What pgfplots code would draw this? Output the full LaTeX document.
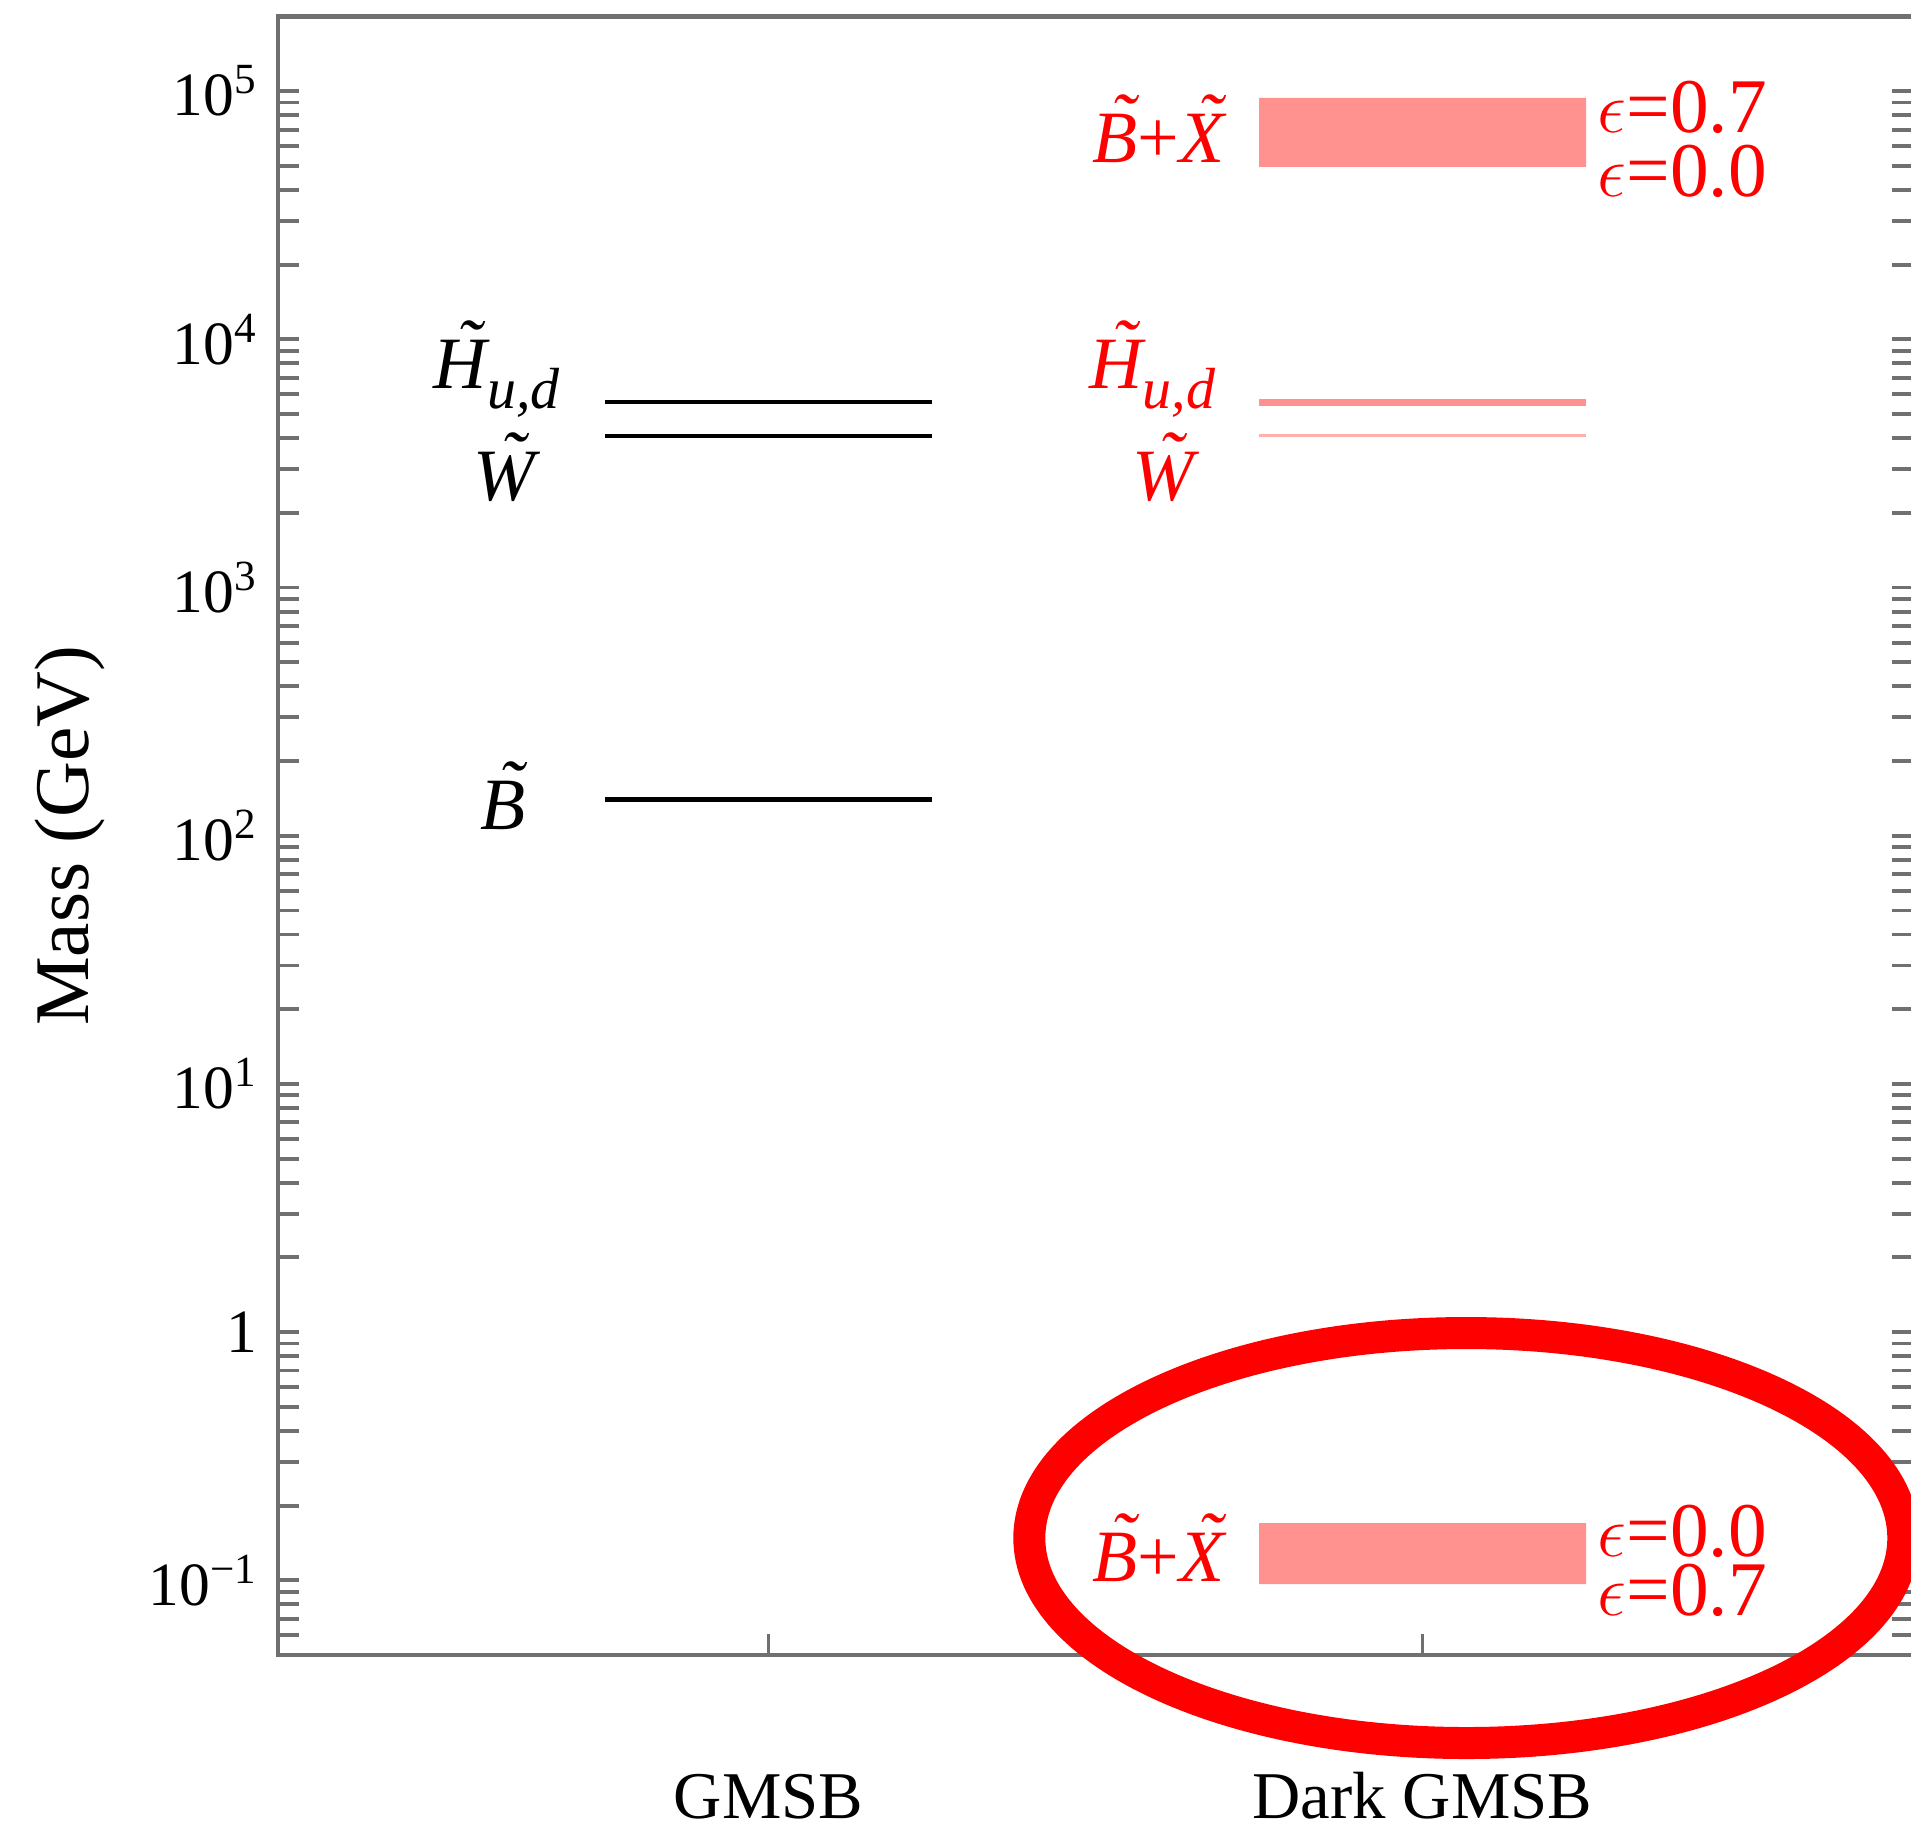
\documentclass[border=0pt]{standalone}
\usepackage{fontspec}
\setmainfont{Liberation Serif}
\usepackage{pgfplots}
\pgfplotsset{compat=1.18}
\definecolor{framegray}{RGB}{112,112,112}
\definecolor{salmon}{RGB}{255,146,142}
\definecolor{lightpink}{RGB}{255,175,172}
\definecolor{lblred}{RGB}{255,0,0}
% italic capital with a tilde above it
\newcommand{\sq}[1]{\textit{\setbox0\hbox{#1}\rlap{\hbox to \wd0{\hss\kern0.22em\raisebox{0.24em}{\char"02DC}\hss}}\box0}}
\newcommand{\Hud}{\sq{H}\raisebox{-0.28em}{\fontsize{16.5}{16.5}\selectfont\textit{u,d}}}
\begin{document}
\begin{tikzpicture}
\begin{axis}[
  scale only axis, width=16.35cm, height=16.385cm,
  xmin=0.25, xmax=2.75, ymode=log, ymin=0.05, ymax=2e5,
  axis line style={framegray, line width=1.4pt},
  tick align=inside,
  major tick length=0.21cm, minor tick length=0.21cm,
  tick style={framegray, line width=1.1pt},
  xtick={1,2}, xticklabels={GMSB, Dark GMSB}, xtick pos=bottom,
  x tick style={line width=0.8pt},
  ytick={0.1,1,10,100,1000,10000,100000},
  yticklabels={10\textsuperscript{−1},1,10\textsuperscript{1},10\textsuperscript{2},10\textsuperscript{3},10\textsuperscript{4},10\textsuperscript{5}},
  minor ytick={0.06,0.07,0.08,0.09,0.2,0.3,0.4,0.5,0.6,0.7,0.8,0.9,2,3,4,5,6,7,8,9,20,30,40,50,60,70,80,90,200,300,400,500,600,700,800,900,2000,3000,4000,5000,6000,7000,8000,9000,20000,30000,40000,50000,60000,70000,80000,90000},
  yticklabel style={font=\fontsize{17.5}{20}\selectfont, xshift=-0.08cm},
  xticklabel style={font=\fontsize{19}{22}\selectfont, anchor=base, inner sep=0pt, text depth=0pt, yshift=-1.64cm},
  ylabel={Mass (GeV)},
  ylabel style={font=\fontsize{22}{26}\selectfont, at={(axis description cs:-0.1272,0.5)}, anchor=center},
  clip=false,
]
% GMSB levels
\addplot[black, line width=1.3pt] coordinates {(0.75,5600) (1.25,5600)};
\addplot[black, line width=1.3pt] coordinates {(0.75,4085) (1.25,4085)};
\addplot[black, line width=1.3pt] coordinates {(0.75,140) (1.25,140)};
% Dark GMSB levels
\addplot[fill=salmon, draw=none] coordinates {(1.75,49500) (2.25,49500) (2.25,94000) (1.75,94000) (1.75,49500)};
\addplot[fill=salmon, draw=none] coordinates {(1.75,0.0964) (2.25,0.0964) (2.25,0.170) (1.75,0.170) (1.75,0.0964)};
\addplot[salmon, line width=2.0pt] coordinates {(1.75,5550) (2.25,5550)};
\addplot[lightpink, line width=0.9pt] coordinates {(1.75,4085) (2.25,4085)};
% labels GMSB
\node[black, anchor=base east, font=\fontsize{21}{25}\selectfont] at (axis cs:0.70,6360) {\Hud};
\node[black, anchor=base, font=\fontsize{21}{25}\selectfont] at (axis cs:0.596,2249) {\sq{W}};
\node[black, anchor=base, font=\fontsize{21}{25}\selectfont] at (axis cs:0.594,106) {\sq{B}};
% labels Dark GMSB
\node[lblred, anchor=base east, font=\fontsize{21}{25}\selectfont] at (axis cs:1.716,51800) {\sq{B}+\sq{X}};
\node[lblred, anchor=base east, font=\fontsize{21}{25}\selectfont] at (axis cs:1.702,6360) {\Hud};
\node[lblred, anchor=base, font=\fontsize{21}{25}\selectfont] at (axis cs:1.603,2249) {\sq{W}};
\node[lblred, anchor=base east, font=\fontsize{21}{25}\selectfont] at (axis cs:1.716,0.0991) {\sq{B}+\sq{X}};
\node[lblred, anchor=base west, inner sep=0pt, font=\fontsize{22}{26}\selectfont] at (axis cs:2.267,68400) {$\epsilon$=0.7};
\node[lblred, anchor=base west, inner sep=0pt, font=\fontsize{22}{26}\selectfont] at (axis cs:2.267,37800) {$\epsilon$=0.0};
\node[lblred, anchor=base west, inner sep=0pt, font=\fontsize{22}{26}\selectfont] at (axis cs:2.267,0.125) {$\epsilon$=0.0};
\node[lblred, anchor=base west, inner sep=0pt, font=\fontsize{22}{26}\selectfont] at (axis cs:2.267,0.0722) {$\epsilon$=0.7};
% annotation ellipse
\draw[lblred, line width=0.32cm] (axis cs:2.067,0.148) ellipse [x radius=4.37cm, y radius=2.05cm];
\end{axis}
\pgfresetboundingbox
\path[use as bounding box] (current axis.south west) ++(-2.78cm,-1.76cm) rectangle ++(19.11cm,18.31cm);
\end{tikzpicture}
\end{document}
